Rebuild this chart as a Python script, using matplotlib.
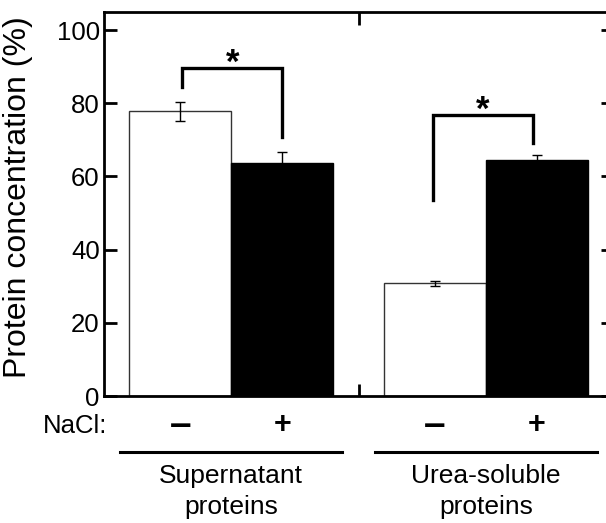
import matplotlib
matplotlib.use("Agg")
import matplotlib.pyplot as plt
import matplotlib.transforms as mtransforms

plt.rcParams['font.family'] = ['Liberation Sans', 'DejaVu Sans']

# data
bar_pos = [0, 1, 2.5, 3.5]
values = [77.8, 63.8, 30.8, 64.5]
errors = [2.65, 2.9, 0.7, 1.3]
colors = ['white', 'black', 'white', 'black']
nacl_signs = ['\u2013', '+', '\u2013', '+']
group_names = ['Supernatant\nproteins', 'Urea-soluble\nproteins']
group_centers = [0.5, 3.0]
# significance brackets: x left, x right, y left end, y right end, y top
brackets = [(0.02, 1.0, 84.5, 70.8, 89.7),
            (2.48, 3.46, 53.6, 69.2, 76.9)]

fig = plt.figure(figsize=(6.06, 5.23), dpi=100)
ax = fig.add_axes([0.1716, 0.2428, 0.84, 0.7348])

edges = ['#333333' if c == 'white' else 'black' for c in colors]
ax.bar(bar_pos, values, width=1.0, color=colors, edgecolor=edges,
       linewidth=1.0, zorder=2)
ax.errorbar(bar_pos, values, yerr=errors, fmt='none', ecolor='black',
            elinewidth=1.0, capsize=3.7, capthick=1.0, zorder=3)

for x1, x2, yl, yr, yt in brackets:
    ax.plot([x1, x1, x2, x2], [yl, yt, yt, yr], color='black', lw=2.4,
            solid_joinstyle='miter', zorder=4)
    ax.text((x1 + x2) / 2, yt - 1.5, '*', ha='center', va='baseline',
            fontsize=25, fontweight='bold')

ax.set_xlim(-0.75, 4.25)
ax.set_ylim(0, 105)
ax.set_yticks([0, 20, 40, 60, 80, 100])
ax.set_xticks([1.75])
ax.set_xticklabels([])
ax.tick_params(axis='y', direction='in', length=9, width=2, labelsize=18.5,
               pad=3, right=True)
ax.tick_params(axis='x', direction='in', length=9, width=2, top=True)
for s in ax.spines.values():
    s.set_linewidth(2)

ax.set_ylabel('Protein concentration (%)', fontsize=23)
ax.yaxis.set_label_coords(-0.1395, 0.5165)

trans = mtransforms.blended_transform_factory(ax.transData, ax.transAxes)
ax.text(-0.72, -0.0963, 'NaCl:', transform=trans, ha='right', va='baseline',
        fontsize=18.5)
for x, s in zip(bar_pos, nacl_signs):
    if s == '+':
        ax.text(x, -0.0963, s, transform=trans, ha='center', va='baseline',
                fontsize=22, fontweight='bold')
    else:
        ax.text(x, -0.105, s, transform=trans, ha='center', va='baseline',
                fontsize=28, fontweight='bold')

for c, name in zip(group_centers, group_names):
    ax.plot([c - 1.09, c + 1.09], [-0.145, -0.145], transform=trans,
            color='black', lw=2.2, clip_on=False)
    ax.text(c, -0.178, name, transform=trans, ha='center', va='top',
            fontsize=19, linespacing=1.32)

fig.savefig('out.png', dpi=100)
